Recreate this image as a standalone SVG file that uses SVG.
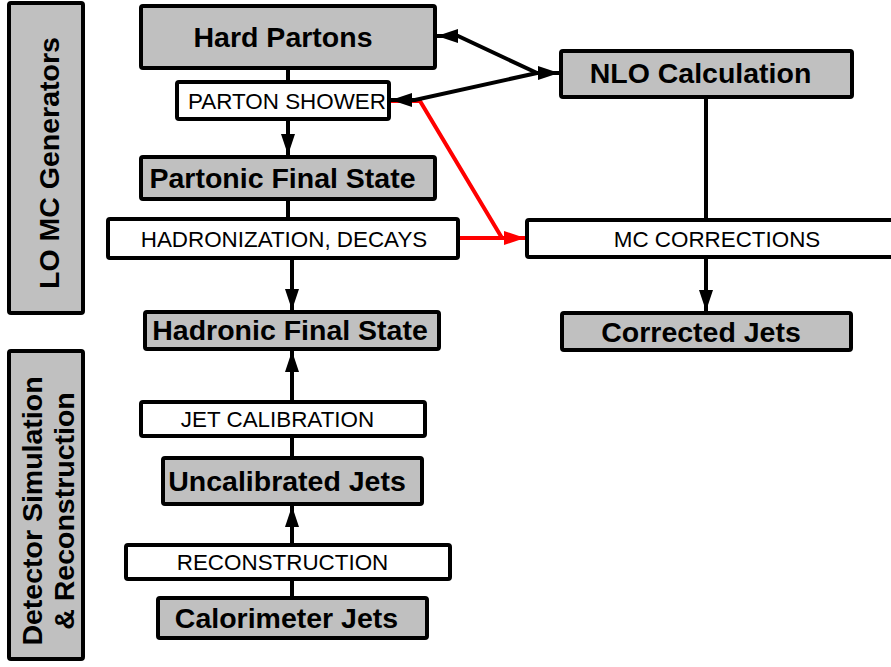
<svg xmlns="http://www.w3.org/2000/svg" width="891" height="667" viewBox="0 0 891 667">
<style>
.g{fill:#c0c0c0;stroke:#000;stroke-width:4}
.w{fill:#fff;stroke:#000;stroke-width:4}
.b{font-family:"Liberation Sans",Arial,sans-serif;font-weight:bold;font-size:28.5px;fill:#000;text-anchor:middle}
.s{font-family:"Liberation Sans",Arial,sans-serif;font-size:22.4px;fill:#000;text-anchor:middle}
.c{fill:none;stroke:#000;stroke-width:4}
.r{fill:none;stroke:#f00;stroke-width:4}
</style>
<defs>
<marker id="ah" markerUnits="userSpaceOnUse" markerWidth="21" markerHeight="14" refX="21" refY="7" orient="auto"><path d="M0,0 L21,7 L0,14 z" fill="#000"/></marker>
<marker id="ahr" markerUnits="userSpaceOnUse" markerWidth="21" markerHeight="14" refX="21" refY="7" orient="auto"><path d="M0,0 L21,7 L0,14 z" fill="#f00"/></marker>
</defs>
<rect width="891" height="667" fill="#fff"/>
<g id="connectors">
<path class="r" d="M391,101 L420,101 L502,238"/>
<path class="r" d="M460,238 L525,238" marker-end="url(#ahr)"/>
<path class="c" d="M288,70 L288,82"/>
<path class="c" d="M288,121 L288,155" marker-end="url(#ah)"/>
<path class="c" d="M288,201 L288,219"/>
<path class="c" d="M292,260 L292,310" marker-end="url(#ah)"/>
<path class="c" d="M292,400 L292,351" marker-end="url(#ah)"/>
<path class="c" d="M292,438 L292,458"/>
<path class="c" d="M292,543 L292,506" marker-end="url(#ah)"/>
<path class="c" d="M292,581 L292,598"/>
<path class="c" d="M537,73 L458,36 L437,36" marker-end="url(#ah)"/>
<path class="c" d="M537,73 L415,100 L391,100" marker-end="url(#ah)"/>
<path class="c" d="M535,73 L559,73" marker-end="url(#ah)"/>
<path class="c" d="M706,99 L706,220"/>
<path class="c" d="M706,259 L706,311" marker-end="url(#ah)"/>
</g>
<g id="lo-mc"><rect class="g" x="9" y="3" width="74" height="310" rx="2"/><text class="b" transform="translate(59,163) rotate(-90)">LO MC Generators</text></g>
<g id="detector"><rect class="g" x="9" y="351" width="74" height="308" rx="2"/><text class="b" transform="translate(42,511) rotate(-90)">Detector Simulation</text><text class="b" transform="translate(74,511) rotate(-90)">&amp; Reconstruction</text></g>
<g id="hard-partons"><rect class="g" x="141" y="6" width="294" height="62" rx="2"/><text class="b" x="283" y="47">Hard Partons</text></g>
<g id="parton-shower"><rect class="w" x="177" y="82" width="212" height="37" rx="2"/><text class="s" x="287" y="109">PARTON SHOWER</text></g>
<g id="partonic-final-state"><rect class="g" x="141" y="157" width="294" height="42" rx="2"/><text class="b" x="282.5" y="188">Partonic Final State</text></g>
<g id="hadronization"><rect class="w" x="108" y="219" width="350" height="39" rx="2"/><text class="s" x="284" y="247">HADRONIZATION, DECAYS</text></g>
<g id="hadronic-final-state"><rect class="g" x="145" y="312" width="294" height="37" rx="2"/><text class="b" x="290" y="340">Hadronic Final State</text></g>
<g id="nlo"><rect class="g" x="561" y="51" width="291" height="46" rx="2"/><text class="b" x="700.5" y="83">NLO Calculation</text></g>
<g id="mc-corrections"><rect class="w" x="527" y="220" width="380" height="37" rx="2"/><text class="s" x="717" y="247">MC CORRECTIONS</text></g>
<g id="corrected-jets"><rect class="g" x="562" y="313" width="289" height="37" rx="2"/><text class="b" x="701" y="342">Corrected Jets</text></g>
<g id="jet-calibration"><rect class="w" x="141" y="402" width="284" height="34" rx="2"/><text class="s" x="277.5" y="427">JET CALIBRATION</text></g>
<g id="uncalibrated-jets"><rect class="g" x="163" y="458" width="259" height="46" rx="2"/><text class="b" x="287" y="491">Uncalibrated Jets</text></g>
<g id="reconstruction"><rect class="w" x="126" y="545" width="324" height="34" rx="2"/><text class="s" x="282.5" y="570">RECONSTRUCTION</text></g>
<g id="calorimeter-jets"><rect class="g" x="158" y="598" width="269" height="40" rx="2"/><text class="b" x="286.5" y="628">Calorimeter Jets</text></g>
</svg>
